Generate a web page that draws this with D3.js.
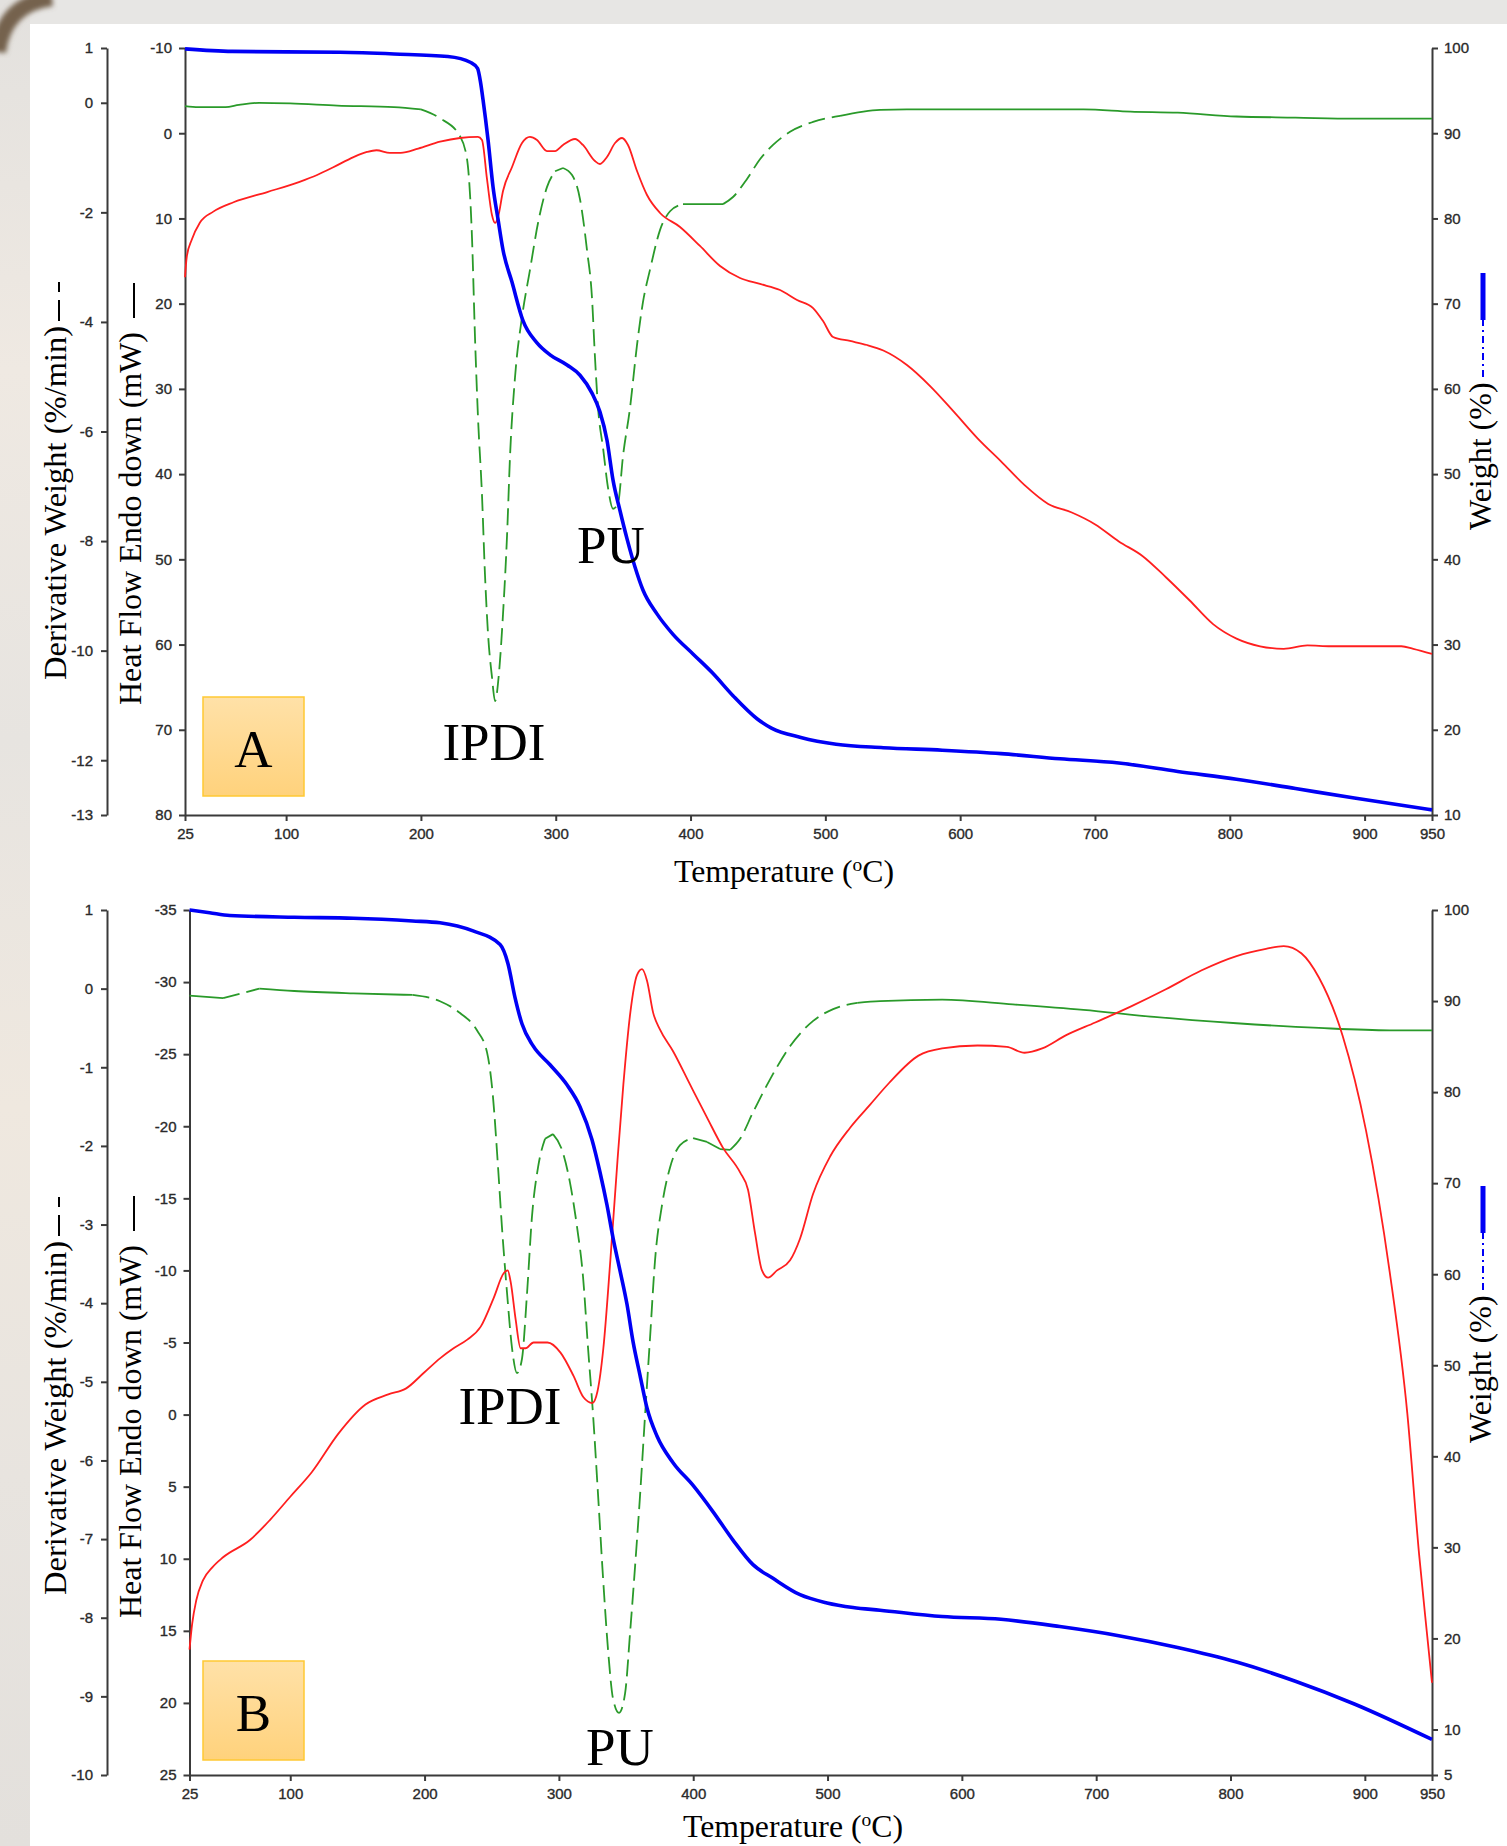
<!DOCTYPE html>
<html>
<head>
<meta charset="utf-8">
<title>TGA / DSC curves</title>
<script src="https://cdn.jsdelivr.net/npm/d3@7/dist/d3.min.js"></script>
<style>
  body { margin: 0; background: #e7e5e2; }
  svg { display: block; }
  .axis path, .axis line { stroke: #3a3a3a; stroke-width: 2; }
  .axis text { font-family: "Liberation Sans", Arial, sans-serif; font-size: 15px; fill: #2a2a2a; stroke: #2a2a2a; stroke-width: 0.35px; }
  .serif { font-family: "Liberation Serif", "Times New Roman", serif; fill: #000; }
</style>
</head>
<body>
<script>
// temperature ticks, shared by both plots
const tempTicks = [25, 100, 200, 300, 400, 500, 600, 700, 800, 900, 950]

// ---------- plot A ----------
const derivTicksA = [1, 0, -2, -4, -6, -8, -10, -12, -13]
const heatTicksA = [-10, 0, 10, 20, 30, 40, 50, 60, 70, 80]
const weightTicksA = [100, 90, 80, 70, 60, 50, 40, 30, 20, 10]

// [temperature (C), weight (%)]
const weightA = [[25,99.9],[60,99.6],[140,99.5],[180,99.3],[220,99.0],[237,98.3],[242,97.6],[244.2,96.0],
  [246.1,93.9],[249.8,89.2],[253.5,83.7],[257.2,79.9],[260.9,76.3],[267.6,72.5],[275.7,68.0],[286.1,65.4],
  [295.8,64.0],[308.4,62.8],[318,61.6],[326.9,59.5],[332.8,57.3],[338,54.0],[342.5,49.3],[347.7,45.7],
  [352.9,42.4],[358.8,39.1],[364.7,36.4],[375.1,33.6],[387,31.2],[401.8,28.9],[416.7,26.6],[431.5,24.0],
  [449.3,21.3],[460,20.2],[481.8,19.1],[508,18.3],[543,17.9],[586.7,17.6],[630.3,17.2],[674,16.6],
  [717.7,16.1],[761.4,15.1],[805,14.2],[848.7,13.1],[892.4,12.0],[950,10.6]]

// [temperature (C), derivative weight (%/min)]
const derivA = [[25,-0.06],[35,-0.08],[55,-0.08],[65,-0.04],[80,0.0],[103,-0.01],[138,-0.05],[180,-0.08],
  [200,-0.12],[214,-0.28],[229,-0.61],[234.2,-1.03],[237.9,-2.47],[240.1,-4.27],[242.3,-5.72],[245.3,-7.16],
  [247.5,-8.60],[249.8,-9.70],[252.7,-10.48],[255,-10.92],[257.9,-10.41],[260.9,-9.33],[263.9,-7.89],
  [266.1,-6.45],[269.8,-5.01],[275,-3.91],[280.9,-3.05],[286.9,-2.19],[293.5,-1.54],[299.5,-1.25],
  [305.4,-1.19],[312.1,-1.32],[318,-1.76],[323.2,-2.69],[326.9,-3.56],[329.1,-4.64],[331.4,-5.57],
  [335.1,-6.30],[338.8,-7.03],[342.5,-7.41],[346.2,-7.31],[349.9,-6.45],[355.1,-5.57],[360.3,-4.42],
  [364.7,-3.64],[369.9,-3.05],[377.4,-2.32],[384.8,-1.98],[394.4,-1.85],[412.2,-1.85],[424.1,-1.85],
  [431.5,-1.72],[441.9,-1.39],[451.5,-1.03],[461.2,-0.77],[473.8,-0.53],[490.9,-0.35],[510.9,-0.24],
  [540.6,-0.13],[560.5,-0.12],[630,-0.12],[691.5,-0.12],[726.4,-0.16],[761.4,-0.18],[805,-0.25],
  [848.7,-0.27],[892.4,-0.29],[950,-0.29]]

// [temperature (C), heat flow (mW)]
const heatA = [[25,16.9],[26.3,14.5],[30,12.5],[36,10.5],[46,9.2],[61,8.1],[86,6.9],[110,5.7],[123,4.9],
  [135,4.0],[150,2.8],[160,2.2],[167,2.0],[177,2.3],[185,2.3],[198,1.8],[214.2,1.0],[229,0.56],[242.3,0.44],
  [245.3,0.80],[249,5.37],[252.7,9.60],[255,10.53],[257.2,9.83],[260.9,6.78],[267.6,3.96],[275,1.15],
  [280.9,0.44],[286.1,0.80],[293.5,2.09],[299.5,2.09],[305.4,1.38],[314.3,0.68],[320.2,1.38],[329.1,3.26],
  [332.8,3.61],[338,2.79],[344,1.15],[349.2,0.56],[353.6,1.38],[360.3,4.43],[367.7,7.25],[377.4,9.36],
  [392.2,11.0],[407,13.23],[421.9,15.58],[436.7,16.99],[451.5,17.69],[466.4,18.4],[479,19.57],
  [490.9,20.51],[498.3,22.04],[505.7,23.91],[518.3,24.38],[530.9,24.85],[543,25.5],[560.5,27.2],
  [577.9,29.7],[595.4,32.7],[612.9,35.8],[630.3,38.5],[647.8,41.3],[665.3,43.5],[682.8,44.5],[700.2,45.9],
  [717.7,47.9],[735.2,49.6],[752.6,52.1],[770.1,54.8],[787.6,57.6],[805,59.3],[822.5,60.2],[840,60.5],
  [857.5,60.1],[874.9,60.2],[901.1,60.2],[927.3,60.2],[936.1,60.5],[950,61.1]]

// ---------- plot B ----------
const derivTicksB = [1, 0, -1, -2, -3, -4, -5, -6, -7, -8, -9, -10]
const heatTicksB = [-35, -30, -25, -20, -15, -10, -5, 0, 5, 10, 15, 20, 25]
const weightTicksB = [100, 90, 80, 70, 60, 50, 40, 30, 20, 10, 5]

const weightB = [[25,100],[40,99.7],[55,99.4],[103,99.2],[147,99.1],[191,98.8],[211.5,98.6],[236.1,97.7],
  [256.2,96.2],[262.1,94.1],[267.3,90.4],[272.5,87.5],[280.7,85.1],[293.4,83.0],[306,80.8],[315.7,78.4],
  [324.6,74.8],[330.6,71.2],[335.8,67.6],[340.3,64.0],[345.5,60.4],[350.7,56.7],[355.2,52.6],[360.4,48.9],
  [365.6,45.3],[373.1,42.2],[385,39.3],[399.9,36.8],[414.8,33.9],[429.6,30.8],[444.5,28.1],[459.4,26.6],
  [479.5,24.8],[499.6,23.9],[519,23.4],[539.1,23.1],[585.3,22.4],[629.1,22.1],[672.9,21.3],[716.8,20.3],
  [760.6,19.0],[804.5,17.4],[848.3,15.3],[892.2,12.8],[950,8.9]]

const derivB = [[25,-0.09],[50,-0.12],[77,0.0],[103,-0.03],[147,-0.06],[191,-0.08],[211.5,-0.16],
  [226.4,-0.31],[239,-0.53],[246.5,-0.81],[250.9,-1.37],[254.7,-2.27],[257.6,-3.03],[261.4,-3.87],
  [265.1,-4.57],[268.8,-4.89],[272.5,-4.71],[276.3,-3.87],[280,-2.89],[284.5,-2.27],[289.7,-1.91],
  [295.6,-1.85],[302.3,-2.05],[308.3,-2.47],[313.5,-3.03],[318,-3.67],[321.7,-4.57],[325.4,-5.41],
  [329.2,-6.45],[332.9,-7.50],[336.6,-8.41],[340.3,-9.03],[344.8,-9.21],[349.3,-8.96],[353,-8.19],
  [356.7,-7.35],[360.4,-6.45],[364.2,-5.41],[367.9,-4.43],[371.6,-3.45],[376.8,-2.75],[382.8,-2.27],
  [390.2,-1.99],[399.9,-1.90],[410.3,-1.95],[420,-2.04],[427.5,-2.05],[434.9,-1.91],[444.6,-1.57],
  [457.3,-1.15],[472.2,-0.73],[489.3,-0.41],[504.2,-0.26],[522.1,-0.18],[539.1,-0.16],[585.3,-0.14],
  [637.9,-0.20],[690.5,-0.27],[743.1,-0.36],[804.5,-0.44],[865.9,-0.50],[918.5,-0.53],[950,-0.53]]

const heatB = [[25,16.3],[27,14.5],[30,12.9],[35,11.5],[42,10.6],[50,9.9],[70,8.7],[85,7.3],[100,5.7],
  [116,4.0],[136,1.3],[156,-0.7],[173,-1.4],[186,-1.8],[199.5,-2.9],[211.5,-3.9],[221.6,-4.6],[231.8,-5.2],
  [241.8,-6.1],[251.5,-8.1],[258.9,-9.8],[261.9,-10.0],[264.1,-9.2],[267.8,-6.6],[271.5,-4.6],[275.2,-4.6],
  [281.1,-5.0],[291.5,-5.0],[301.2,-4.3],[310.8,-2.7],[318.3,-1.2],[324.9,-0.8],[328.7,-1.6],[333.1,-4.6],
  [338.3,-10.7],[343.6,-17.6],[348,-22.9],[353.2,-27.9],[358.2,-30.5],[361.9,-30.9],[365.6,-30.1],
  [370.1,-27.9],[375.3,-26.7],[385,-25.2],[397.6,-22.9],[410.3,-20.6],[422.2,-18.5],[434.9,-16.8],
  [440.8,-15.6],[446,-12.6],[451.2,-10.0],[455.7,-9.5],[462.4,-10.0],[472.1,-10.7],[479.5,-12.2],
  [489.2,-15.3],[501.9,-17.9],[516.8,-19.9],[531.7,-21.5],[545.8,-23.0],[567.7,-24.9],[585.3,-25.4],
  [611.6,-25.6],[633.5,-25.5],[646.7,-25.1],[659.8,-25.4],[677.3,-26.3],[699.3,-27.2],[725.6,-28.3],
  [751.9,-29.5],[778.2,-30.8],[804.5,-31.8],[826.4,-32.3],[839.6,-32.5],[852.7,-32.0],[865.9,-30.3],
  [883.4,-26.3],[900.9,-19.7],[918.5,-9.9],[931.6,-0.1],[940.4,9.7],[946.5,15.4],[950,18.6]]


const svg = d3.select('body').append('svg')
    .attr('width', 1507)
    .attr('height', 1846)

const defs = svg.append('defs')

let g1 = defs.append('linearGradient').attr('id', 'leftStrip').attr('x1', 0).attr('y1', 0).attr('x2', 0).attr('y2', 1)
;[['0', '#e3e1de'], ['0.2', '#efe9e2'], ['0.4', '#e7e4e0'], ['0.6', '#efe8df'], ['0.8', '#e8e4df'], ['1', '#e3e0dc']]
    .forEach(s => g1.append('stop').attr('offset', s[0]).attr('stop-color', s[1]))

let g2 = defs.append('linearGradient').attr('id', 'boxFill').attr('x1', 0).attr('y1', 0).attr('x2', 0).attr('y2', 1)
g2.append('stop').attr('offset', '0').attr('stop-color', '#ffe1a8')
g2.append('stop').attr('offset', '1').attr('stop-color', '#ffd27c')

defs.append('filter').attr('id', 'soft').append('feGaussianBlur').attr('stdDeviation', 2.5)

// page background (grey border round the white figure)
svg.append('rect').attr('width', 1507).attr('height', 1846).attr('fill', '#e7e6e4')
svg.append('rect').attr('width', 30).attr('height', 1846).attr('fill', 'url(#leftStrip)')
svg.append('path').attr('d', 'M-2,52 Q4,4 52,-2')
    .attr('fill', 'none').attr('stroke', '#75624d').attr('stroke-width', 16).attr('filter', 'url(#soft)')
svg.append('rect').attr('x', 30).attr('y', 24).attr('width', 1477).attr('height', 1822).attr('fill', '#fff')


// split green curve into flat (solid) and steep (dashed) runs, the way the original plot looks
function drawDashed(pts, xs, ys) {
    let runs = [], cur = null
    for (let i = 0; i < pts.length - 1; i++) {
        const dy = Math.abs(ys(pts[i + 1][1]) - ys(pts[i][1]))
        const dx = Math.abs(xs(pts[i + 1][0]) - xs(pts[i][0]))
        const steep = dy > 5 && dy / dx > 0.18
        if (!cur || cur.steep !== steep) {
            cur = { steep: steep, pts: [pts[i]] }
            runs.push(cur)
        }
        cur.pts.push(pts[i + 1])
    }
    const line = d3.line().x(d => xs(d[0])).y(d => ys(d[1])).curve(d3.curveMonotoneX)
    runs.forEach(r => {
        svg.append('path')
            .attr('d', line(r.pts))
            .attr('fill', 'none')
            .attr('stroke', '#2a9a2a')
            .attr('stroke-width', 1.8)
            .attr('stroke-dasharray', r.steep ? '17,7' : null)
    })
}

function drawPanel(p) {
    const x = d3.scaleLinear().domain([25, 950]).range([p.heatX, 1432])
    const yDeriv = d3.scaleLinear().domain(p.derivDomain).range([p.top, p.bottom])
    const yHeat = d3.scaleLinear().domain(p.heatDomain).range([p.top, p.bottom])
    const yWeight = d3.scaleLinear().domain(p.weightDomain).range([p.top, p.bottom])
    const fmt = d => String(d)   // plain hyphen for negatives, like the original

    // axes
    svg.append('g').attr('class', 'axis')
        .attr('transform', 'translate(0,' + p.bottom + ')')
        .call(d3.axisBottom(x).tickValues(tempTicks).tickFormat(fmt).tickSize(6).tickSizeOuter(0).tickPadding(7))
    svg.append('g').attr('class', 'axis')
        .attr('transform', 'translate(107,0)')
        .call(d3.axisLeft(yDeriv).tickValues(p.derivTicks).tickFormat(fmt).tickSize(6).tickSizeOuter(0).tickPadding(8))
    svg.append('g').attr('class', 'axis')
        .attr('transform', 'translate(' + p.heatX + ',0)')
        .call(d3.axisLeft(yHeat).tickValues(p.heatTicks).tickFormat(fmt).tickSize(6).tickSizeOuter(0).tickPadding(7))
    svg.append('g').attr('class', 'axis')
        .attr('transform', 'translate(1432,0)')
        .call(d3.axisRight(yWeight).tickValues(p.weightTicks).tickFormat(fmt).tickSize(6).tickSizeOuter(0).tickPadding(6))

    // curves: derivative (green dashed), heat flow (red), weight (blue)
    drawDashed(p.deriv, x, yDeriv)

    svg.append('path').datum(p.heat)
        .attr('d', d3.line().x(d => x(d[0])).y(d => yHeat(d[1])).curve(d3.curveMonotoneX))
        .attr('fill', 'none').attr('stroke', '#ff1f1f').attr('stroke-width', 1.8)

    svg.append('path').datum(p.weight)
        .attr('d', d3.line().x(d => x(d[0])).y(d => yWeight(d[1])).curve(d3.curveMonotoneX))
        .attr('fill', 'none').attr('stroke', '#0000f5').attr('stroke-width', 3.6)

    // axis titles
    svg.append('text').attr('class', 'serif')
        .attr('transform', 'translate(66,' + p.derivLabelY + ') rotate(-90)')
        .attr('font-size', 32).attr('textLength', 354).attr('lengthAdjust', 'spacingAndGlyphs')
        .text('Derivative Weight (%/min)')
    svg.append('line').attr('x1', 59).attr('x2', 59)
        .attr('y1', p.derivLabelY - 359).attr('y2', p.derivLabelY - 380).attr('stroke', '#000').attr('stroke-width', 2)
    svg.append('line').attr('x1', 59).attr('x2', 59)
        .attr('y1', p.derivLabelY - 388).attr('y2', p.derivLabelY - 398).attr('stroke', '#000').attr('stroke-width', 2)

    svg.append('text').attr('class', 'serif')
        .attr('transform', 'translate(141,' + p.heatLabelY + ') rotate(-90)')
        .attr('font-size', 32).attr('textLength', 373).attr('lengthAdjust', 'spacingAndGlyphs')
        .text('Heat Flow Endo down (mW)')
    svg.append('line').attr('x1', 134).attr('x2', 134)
        .attr('y1', p.heatLabelY - 387).attr('y2', p.heatLabelY - 422).attr('stroke', '#000').attr('stroke-width', 2)

    svg.append('text').attr('class', 'serif')
        .attr('transform', 'translate(1491,' + p.weightLabelY + ') rotate(-90)')
        .attr('font-size', 32)
        .text('Weight (%)')
    svg.append('line').attr('x1', 1483).attr('x2', 1483)
        .attr('y1', p.weightLabelY - 153).attr('y2', p.weightLabelY - 210)
        .attr('stroke', '#0000f5').attr('stroke-width', 2).attr('stroke-dasharray', '7,4,2,4')
    svg.append('line').attr('x1', 1483).attr('x2', 1483)
        .attr('y1', p.weightLabelY - 210).attr('y2', p.weightLabelY - 257)
        .attr('stroke', '#0000f5').attr('stroke-width', 5)

    let t = svg.append('text').attr('class', 'serif')
        .attr('x', p.tempLabelX).attr('y', p.tempLabelY)
        .attr('font-size', 31).attr('textLength', 220).attr('lengthAdjust', 'spacingAndGlyphs')
    t.append('tspan').text('Temperature (')
    t.append('tspan').attr('font-size', 19).attr('dy', -11).text('o')
    t.append('tspan').attr('dy', 11).text('C)')

    // panel letter box
    svg.append('rect').attr('x', 203).attr('y', p.boxY).attr('width', 101).attr('height', 99)
        .attr('fill', 'url(#boxFill)').attr('stroke', '#ffc933').attr('stroke-width', 1.5)
    svg.append('text').attr('class', 'serif')
        .attr('x', 253.5).attr('y', p.boxY + 70).attr('text-anchor', 'middle').attr('font-size', 53)
        .text(p.name)

    // peak labels
    p.peaks.forEach(k => {
        svg.append('text').attr('class', 'serif')
            .attr('x', k[1]).attr('y', k[2]).attr('text-anchor', 'middle').attr('font-size', 53)
            .text(k[0])
    })
}

drawPanel({
    name: 'A', top: 48, bottom: 815, heatX: 185,
    derivDomain: [1, -13], heatDomain: [-10, 80], weightDomain: [100, 10],
    derivTicks: derivTicksA, heatTicks: heatTicksA, weightTicks: weightTicksA,
    deriv: derivA, heat: heatA, weight: weightA,
    derivLabelY: 680, heatLabelY: 705, weightLabelY: 530,
    tempLabelX: 674, tempLabelY: 882, boxY: 697,
    peaks: [['IPDI', 494, 760], ['PU', 611, 563]]
})

drawPanel({
    name: 'B', top: 910, bottom: 1775, heatX: 189.5,
    derivDomain: [1, -10], heatDomain: [-35, 25], weightDomain: [100, 5],
    derivTicks: derivTicksB, heatTicks: heatTicksB, weightTicks: weightTicksB,
    deriv: derivB, heat: heatB, weight: weightB,
    derivLabelY: 1595, heatLabelY: 1618, weightLabelY: 1443,
    tempLabelX: 683, tempLabelY: 1837, boxY: 1661,
    peaks: [['IPDI', 510, 1424], ['PU', 620, 1765]]
})
</script>
</body>
</html>
